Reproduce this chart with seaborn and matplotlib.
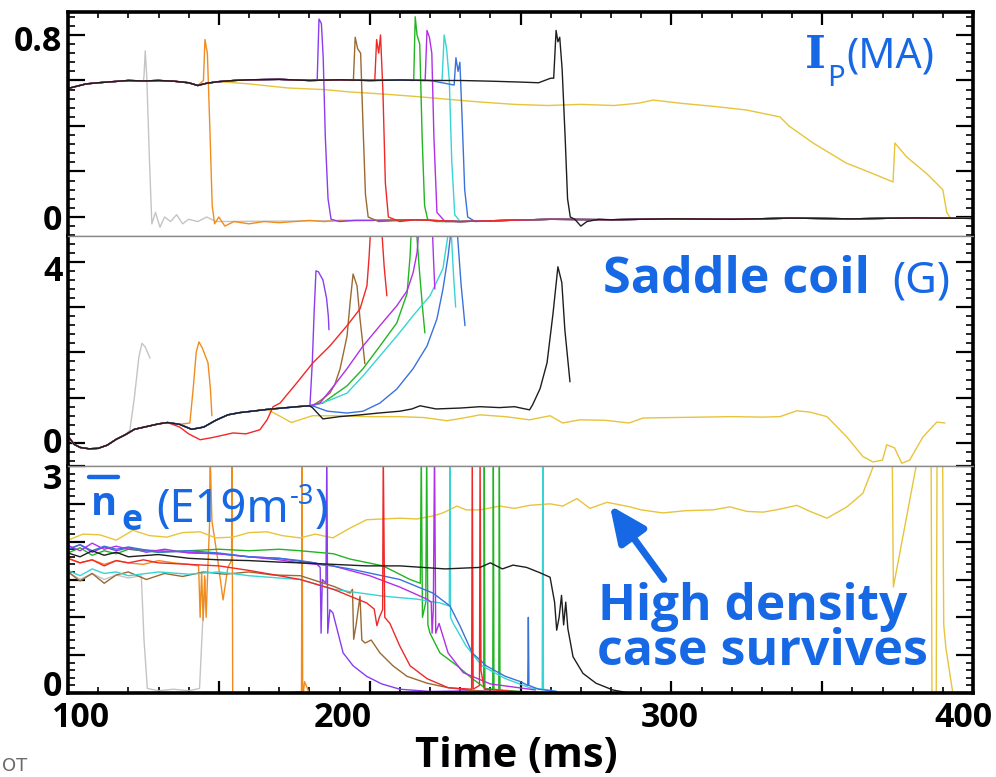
import matplotlib
matplotlib.use("Agg")
import matplotlib.pyplot as plt
import seaborn as sns
from matplotlib import font_manager as fm
from matplotlib.ticker import MultipleLocator
from matplotlib.lines import Line2D
from matplotlib.transforms import ScaledTranslation

sns.set_theme(style="ticks")


def has_bold(name):
    for f in fm.fontManager.ttflist:
        if f.name != name:
            continue
        w = f.weight if isinstance(f.weight, int) else fm.weight_dict.get(f.weight, 400)
        if w >= 600:
            return True
    return False


FAM_B = next(n for n in ['Noto Sans', 'Open Sans', 'Lato', 'Roboto', 'Inter', 'DejaVu Sans'] if has_bold(n))
FAM_R = 'Noto Sans'
plt.rcParams['font.family'] = [FAM_B, 'DejaVu Sans']

# ---- colours of the shots ----
GRAY, ORANGE, VIOLET, BROWN = '#c4c4c4', '#f08c1e', '#8a3cf0', '#9a6a32'
RED, GREEN, VIOLET2, CYAN = '#f02828', '#22b422', '#b030e8', '#38d4d4'
BLUE_L, BLACK, YELLOW = '#3a72dc', '#1e1e1e', '#e8c43a'
TXT = '#1668e4'

# ---- plasma current Ip (MA) ----
ip_base_t = [100, 103, 106, 110, 115, 120, 125, 130, 135, 140, 143, 146, 150, 155, 160, 170,
             180, 190, 200, 210, 220, 230, 240, 250, 256, 260]
ip_base = [0.565, 0.575, 0.585, 0.59, 0.595, 0.6, 0.598, 0.6, 0.597, 0.59, 0.578, 0.588, 0.595,
           0.6, 0.603, 0.605, 0.6, 0.603, 0.6, 0.602, 0.6, 0.6, 0.597, 0.593, 0.59, 0.61]
ip_post_t = [200, 215, 230, 245, 260, 280, 300, 320, 340, 360, 380, 400]
ip_post = [-0.015, -0.012, -0.02, -0.015, -0.01, -0.012, -0.008, -0.01, -0.005, -0.008, -0.004, -0.006]

ip_gray_t = [125.2, 125.6, 126.1, 127, 127.8, 129, 130.5, 132, 134, 136, 138, 140, 143, 146, 149]
ip_gray = [0.62, 0.73, 0.62, 0.25, -0.03, 0.02, -0.045, 0.0, -0.02, 0.01, -0.03, -0.01, -0.02, 0.0, -0.02]
ip_orange_t = [144.9, 145.4, 146.2, 147, 147.8, 148.6, 150, 152, 155, 160, 165, 170, 175, 180, 185, 190]
ip_orange = [0.6, 0.78, 0.72, 0.4, 0.05, -0.03, 0.0, -0.04, -0.02, -0.03, -0.02, -0.025, -0.02, -0.015, -0.02, -0.015]
ip_violet_t = [182.6, 183.2, 184.0, 184.6, 185.3, 186.2, 187.2, 190, 195]
ip_violet = [0.6, 0.87, 0.85, 0.7, 0.35, 0.08, -0.01, -0.02, -0.015]
ip_brown_t = [194.6, 195.2, 196.0, 197.0, 197.8, 198.6, 199.5, 203]
ip_brown = [0.6, 0.79, 0.74, 0.72, 0.4, 0.1, 0.0, -0.02]
ip_red_t = [201.7, 202.3, 203.0, 203.6, 204.4, 205.2, 206.2, 210]
ip_red = [0.6, 0.78, 0.72, 0.8, 0.55, 0.15, 0.0, -0.02]
ip_green_t = [214.6, 215.1, 215.7, 216.6, 217.4, 218.2, 219.2, 222]
ip_green = [0.6, 0.88, 0.8, 0.76, 0.35, 0.05, -0.01, -0.02]
ip_violet2_t = [218.4, 219.0, 219.8, 220.6, 221.3, 222.3, 225]
ip_violet2 = [0.6, 0.82, 0.79, 0.72, 0.35, 0.02, -0.02]
ip_cyan_t = [224.0, 224.7, 225.5, 226.4, 227.2, 228.2, 230]
ip_cyan = [0.6, 0.8, 0.74, 0.6, 0.25, 0.01, -0.02]
ip_blue_t = [228.0, 228.6, 229.3, 229.9, 230.6, 231.5, 232.5, 235]
ip_blue = [0.58, 0.7, 0.64, 0.68, 0.45, 0.12, 0.0, -0.02]
ip_black_t = [261.0, 261.8, 262.4, 263.0, 263.8, 264.8, 265.6, 266.5, 268, 270, 272, 276]
ip_black = [0.61, 0.82, 0.77, 0.79, 0.65, 0.35, 0.08, 0.0, -0.01, -0.04, -0.02, -0.01]
ip_yellow_t = [150, 160, 173, 185, 193, 205, 215, 228, 237, 248, 259, 270, 281, 289, 294, 303, 315,
               325, 336, 339, 347, 358, 366, 373.5, 374.1, 378, 384.7, 390, 391.3, 392.5, 400]
ip_yellow = [0.595, 0.585, 0.567, 0.56, 0.55, 0.54, 0.53, 0.515, 0.505, 0.495, 0.49, 0.495, 0.49,
             0.5, 0.514, 0.5, 0.485, 0.47, 0.44, 0.4, 0.325, 0.237, 0.195, 0.154, 0.325, 0.264,
             0.19, 0.12, 0.02, -0.005, -0.005]

# ---- saddle coil signal (G) ----
sc_base_t = [100, 102, 104, 107, 110, 113, 116, 119, 122, 126, 130, 133, 137, 141, 145, 149, 153,
             157, 161, 166, 171, 176, 180]
sc_base = [0.15, -0.03, -0.1, -0.13, -0.12, -0.05, 0.08, 0.18, 0.3, 0.36, 0.42, 0.45, 0.41, 0.3,
           0.35, 0.5, 0.62, 0.67, 0.7, 0.74, 0.77, 0.8, 0.82]
sc_gray_t = [120.5, 122, 123.5, 124.5, 125.6, 127.2]
sc_gray = [0.28, 1.0, 1.9, 2.2, 2.12, 1.87]
sc_orange_t = [140.4, 141.5, 142.5, 143.4, 144.5, 146.4, 147.2, 147.7]
sc_orange = [0.44, 1.2, 2.0, 2.23, 2.1, 1.77, 1.2, 0.6]
sc_violet_t = [180.2, 181, 181.6, 182.2, 183, 184.5, 185.7, 186.3, 186.5]
sc_violet = [0.82, 1.8, 2.9, 3.8, 3.78, 3.6, 3.2, 2.8, 2.5]
sc_brown_t = [181, 184, 186.8, 188.5, 190.2, 192.5, 193.5, 194.5, 195.8, 196.8, 197.7, 198.4]
sc_brown = [0.82, 0.95, 1.1, 1.3, 1.64, 2.36, 3.09, 3.73, 3.47, 2.74, 2.2, 1.75]
sc_red_t = [137, 140, 143.8, 148, 154.7, 159, 163.6, 166, 168, 170.3, 175.9, 181.2, 186.8, 192.5,
            196.8, 199.1, 199.8, 200.3, 204, 204.8, 205.7]
sc_red = [0.35, 0.2, 0.07, 0.12, 0.22, 0.2, 0.29, 0.51, 0.8, 0.88, 1.33, 1.77, 2.14, 2.59, 2.96,
          3.47, 4.1, 4.7, 4.7, 3.9, 3.25]
sc_green_t = [184.5, 188, 192.5, 197.8, 203.4, 209, 212.4, 213.4, 213.8, 215.5, 216.5, 217.5, 218.3]
sc_green = [0.88, 1.05, 1.26, 1.64, 2.14, 2.65, 3.3, 4.13, 4.7, 4.7, 3.8, 3.0, 2.43]
sc_violet2_t = [183.5, 188, 192.5, 197.8, 203.4, 209, 212.4, 214.4, 215.7, 216.3, 220.8, 221.2, 221.6]
sc_violet2 = [0.88, 1.25, 1.64, 2.14, 2.59, 3.03, 3.36, 3.76, 4.2, 4.7, 4.7, 4.0, 3.4]
sc_cyan_t = [181, 187, 192.5, 197.8, 203.4, 209, 214.4, 220, 224.3, 226.2, 227, 227.8, 228.5]
sc_cyan = [0.82, 0.95, 1.1, 1.48, 1.92, 2.36, 2.81, 3.25, 3.85, 4.7, 4.7, 3.7, 3.0]
sc_blue_t = [181, 186, 192.5, 197.8, 203.4, 209, 214.4, 219, 222.3, 224.3, 226, 227, 229, 230.3, 231.6]
sc_blue = [0.82, 0.7, 0.66, 0.7, 0.88, 1.19, 1.64, 2.14, 2.74, 3.4, 4.13, 4.7, 4.7, 3.5, 2.59]
sc_black_t = [181, 184.5, 190, 197, 203, 210, 214, 216.7, 222, 230, 236.6, 243, 248, 253, 254,
              256.5, 258.8, 260.8, 262.4, 263.7, 264.7, 266.4]
sc_black = [0.78, 0.53, 0.58, 0.62, 0.66, 0.7, 0.75, 0.82, 0.75, 0.77, 0.8, 0.78, 0.8, 0.73, 0.84,
            1.2, 1.77, 2.87, 3.89, 3.54, 2.5, 1.35]
sc_yellow_t = [170, 174, 181, 190, 200, 210, 218, 225.6, 231, 236.6, 245, 253, 259.8, 264, 269.7,
               278, 286, 290.6, 300, 310, 320, 330, 336, 341.6, 346, 351.6, 358.2, 363.5, 366.8,
               370, 371.4, 374, 376.4, 379, 383.4, 388, 390.7]
sc_yellow = [0.6, 0.45, 0.6, 0.6, 0.58, 0.58, 0.56, 0.49, 0.55, 0.62, 0.58, 0.51, 0.6, 0.44, 0.51,
             0.5, 0.44, 0.55, 0.56, 0.57, 0.58, 0.57, 0.58, 0.71, 0.68, 0.58, 0.13, -0.3, -0.42,
             -0.38, -0.04, -0.11, -0.45, -0.38, 0.13, 0.46, 0.44]

# ---- line averaged density (1e19 m^-3) ----
ne_gray_t = [100, 104, 108, 112, 116, 120, 124.3, 125.2, 126.3, 130, 135, 140, 143.6, 144.6, 145.6]
ne_gray = [1.6, 1.5, 1.58, 1.5, 1.56, 1.52, 1.55, 0.7, 0.06, 0.03, 0.05, 0.03, 0.06, 0.9, 1.5]
ne_orange_t = [100, 104, 108, 112, 116, 120, 125, 130, 135, 140, 143.3, 143.8, 144.3, 144.8, 145.3,
               145.8, 146.4, 146.9, 147.1, 147.7, 149.5, 151.4, 153, 154.2, 154.4, 154.6, 158,
               165, 172, 177.4, 177.6, 177.8, 178.4, 180]
ne_orange = [1.78, 1.72, 1.76, 1.7, 1.75, 1.72, 1.7, 1.75, 1.72, 1.7, 1.68, 1.0, 1.6, 0.96, 1.55,
             1.0, 1.7, 2.2, 3.2, 2.28, 1.8, 1.23, 1.66, 1.75, 3.2, -0.1, 0.0, 0.01, 0.0, 0.02,
             3.2, -0.1, 0.15, 0.0]
ne_violet_t = [100, 104, 108, 112, 116, 120, 126, 132, 140, 150, 160, 170, 177, 182, 183.6, 183.9,
               184.3, 185.5, 185.8, 186.1, 186.8, 187.8, 191.2, 194.5, 199, 204, 210, 220, 235,
               250, 260]
ne_violet = [1.9, 1.96, 1.86, 1.93, 1.88, 1.92, 1.86, 1.9, 1.85, 1.84, 1.8, 1.78, 1.74, 1.72, 1.66,
             0.79, 1.5, 1.45, 3.2, 0.79, 1.1, 1.06, 0.53, 0.36, 0.22, 0.12, 0.05, 0.02, 0.03,
             0.01, 0.0]
ne_brown_t = [100, 104, 108, 112, 116, 120, 126, 132, 138, 145, 152, 160, 168, 177, 188, 193.5,
              194.3, 194.7, 195.5, 196.8, 197.4, 198.5, 200.5, 203.4, 207.7, 212.4, 219, 226,
              235, 250]
ne_brown = [1.6, 1.48, 1.58, 1.45, 1.56, 1.6, 1.5, 1.58, 1.54, 1.6, 1.57, 1.6, 1.56, 1.55, 1.41,
            1.32, 1.37, 0.71, 0.9, 1.28, 0.7, 0.66, 0.7, 0.53, 0.36, 0.22, 0.13, 0.07, 0.03, 0.0]
ne_red_t = [100, 104, 108, 112, 116, 120, 125, 130, 140, 150, 160, 170, 177, 188, 199, 201.5,
            202.4, 203.2, 204.3, 204.5, 205, 206.7, 210, 213.4, 219, 226, 233.8, 234, 234.3,
            236.4, 236.6, 236.9, 238, 248, 258]
ne_red = [1.78, 1.72, 1.76, 1.68, 1.75, 1.72, 1.76, 1.72, 1.7, 1.68, 1.62, 1.55, 1.5, 1.37, 1.19,
          1.11, 0.89, 1.0, 1.1, 3.2, 1.0, 0.92, 0.62, 0.36, 0.19, 0.07, 0.05, 3.2, 0.05, 0.1,
          3.2, 0.3, 0.05, 0.02, 0.0]
ne_green_t = [100, 104, 108, 112, 116, 120, 130, 140, 150, 160, 170, 177, 188, 193.5, 204.4, 213.4,
              216.8, 217.1, 217.5, 218.6, 218.9, 219.3, 220, 223.3, 229, 234, 237.8, 238, 238.2,
              240.8, 241, 241.2, 242.8, 243, 243.2, 250, 258]
ne_green = [1.85, 1.92, 1.82, 1.88, 1.84, 1.9, 1.86, 1.88, 1.9, 1.88, 1.9, 1.88, 1.84, 1.77, 1.68,
            1.5, 1.45, 3.2, 1.0, 1.2, 3.2, 0.9, 0.79, 0.53, 0.36, 0.19, 0.08, 3.2, 0.06, 0.05,
            3.2, 0.05, 0.04, 3.2, 0.04, 0.02, 0.0]
ne_violet2_t = [100, 104, 108, 112, 116, 120, 130, 140, 150, 160, 170, 177, 187.8, 200, 210, 219,
                220.4, 220.7, 221.1, 221.5, 221.9, 223, 226, 231, 240, 255]
ne_violet2 = [1.95, 1.88, 1.98, 1.9, 1.94, 1.9, 1.88, 1.86, 1.84, 1.8, 1.76, 1.72, 1.68, 1.55, 1.4,
              1.24, 1.2, 0.79, 1.1, 3.2, 0.79, 0.92, 0.53, 0.27, 0.12, 0.04]
ne_cyan_t = [100, 104, 108, 112, 116, 120, 130, 140, 150, 160, 170, 177, 188, 204.4, 215.7, 223.3,
             226.4, 226.6, 226.8, 227.7, 232, 237.2, 245, 253, 257.2, 257.4, 257.6, 262]
ne_cyan = [1.62, 1.55, 1.64, 1.58, 1.6, 1.55, 1.6, 1.57, 1.6, 1.55, 1.52, 1.5, 1.37, 1.28, 1.24,
           1.19, 1.15, 3.2, 1.0, 0.92, 0.62, 0.36, 0.19, 0.07, 0.05, 3.2, 0.05, 0.02]
ne_blue_t = [100, 104, 108, 112, 116, 120, 130, 140, 150, 160, 170, 177, 193.5, 210, 221, 226.6,
             229.9, 234, 238.6, 245, 250, 252.4, 252.6, 252.8, 256, 262]
ne_blue = [1.9, 1.96, 1.88, 1.94, 1.9, 1.93, 1.86, 1.88, 1.85, 1.8, 1.78, 1.75, 1.64, 1.5, 1.32,
           1.15, 0.89, 0.53, 0.36, 0.22, 0.15, 0.1, 1.0, 0.1, 0.05, 0.02]
ne_black_t = [100, 104, 108, 112, 116, 120, 130, 140, 150, 160, 170, 177, 188, 199, 210, 225, 236.6,
              240, 244, 247.5, 252, 256.4, 259.8, 261.3, 262, 262.8, 263.6, 264.3, 265, 265.7,
              266.4, 267.4, 270.7, 275, 280.6, 286]
ne_black = [1.85, 1.8, 1.88, 1.82, 1.86, 1.8, 1.83, 1.78, 1.76, 1.75, 1.73, 1.72, 1.7, 1.68, 1.68,
            1.64, 1.66, 1.72, 1.64, 1.69, 1.66, 1.59, 1.53, 1.2, 0.83, 1.0, 1.29, 0.9, 1.2, 0.85,
            0.7, 0.48, 0.26, 0.13, 0.04, 0.0]
ne_yellow_t = [100, 105, 110.6, 116, 121.5, 127, 132.8, 138, 143.8, 149, 154.7, 160, 166, 171,
               176.9, 182, 187.8, 193.5, 199, 204.4, 210, 215.7, 221, 224.3, 228.9, 232, 236.6,
               243.2, 248, 253, 259.8, 264, 268.7, 273, 278.7, 286.3, 290, 297.2, 305, 313.8,
               319.4, 325, 330.4, 336, 341.6, 346, 351.6, 358.2, 363.5, 367, 369, 373.2, 373.6,
               381.4, 382, 386.1, 386.4, 387.8, 388.1, 389.9, 390.3, 391, 393.3]
ne_yellow = [2.02, 2.1, 2.09, 2.02, 2.15, 2.08, 2.06, 2.12, 2.13, 2.05, 2.06, 2.12, 2.13, 2.08,
             2.05, 2.1, 2.05, 2.18, 2.29, 2.3, 2.31, 2.3, 2.34, 2.38, 2.47, 2.42, 2.42, 2.47,
             2.44, 2.48, 2.5, 2.47, 2.57, 2.44, 2.52, 2.46, 2.42, 2.38, 2.41, 2.42, 2.46, 2.4,
             2.39, 2.43, 2.48, 2.4, 2.31, 2.46, 2.64, 3.0, 3.3, 3.3, 1.4, 3.05, 3.3, 3.3, -0.1,
             -0.1, 3.3, 3.3, 0.9, 0.6, 0.0]


def join(base_t, base_v, tail_t, tail_v, post_t=None, post_v=None):
    n = sum(1 for t in base_t if t < tail_t[0])
    t, v = list(base_t[:n]) + list(tail_t), list(base_v[:n]) + list(tail_v)
    if post_t is not None:
        for a, b in zip(post_t, post_v):
            if a > t[-1]:
                t.append(a)
                v.append(b)
    return t, v


shots = [
    (GRAY, ip_gray_t, ip_gray, sc_gray_t, sc_gray, ne_gray_t, ne_gray),
    (ORANGE, ip_orange_t, ip_orange, sc_orange_t, sc_orange, ne_orange_t, ne_orange),
    (YELLOW, ip_yellow_t, ip_yellow, sc_yellow_t, sc_yellow, ne_yellow_t, ne_yellow),
    (VIOLET, ip_violet_t, ip_violet, sc_violet_t, sc_violet, ne_violet_t, ne_violet),
    (BROWN, ip_brown_t, ip_brown, sc_brown_t, sc_brown, ne_brown_t, ne_brown),
    (GREEN, ip_green_t, ip_green, sc_green_t, sc_green, ne_green_t, ne_green),
    (CYAN, ip_cyan_t, ip_cyan, sc_cyan_t, sc_cyan, ne_cyan_t, ne_cyan),
    (VIOLET2, ip_violet2_t, ip_violet2, sc_violet2_t, sc_violet2, ne_violet2_t, ne_violet2),
    (BLUE_L, ip_blue_t, ip_blue, sc_blue_t, sc_blue, ne_blue_t, ne_blue),
    (RED, ip_red_t, ip_red, sc_red_t, sc_red, ne_red_t, ne_red),
    (BLACK, ip_black_t, ip_black, sc_black_t, sc_black, ne_black_t, ne_black),
]

W, H = 996, 777
fig = plt.figure(figsize=(W / 100, H / 100), dpi=100)
renderer = fig.canvas.get_renderer()


def fitted(s, target_w, weight, fam):
    # font size that gives the text the width it has in the original
    t = fig.text(0, 0, s, fontsize=30, fontweight=weight, family=fam)
    w = t.get_window_extent(renderer).width
    t.remove()
    return 30 * target_w / w


def box(top, bottom):
    return [68 / W, 1 - bottom / H, (973 - 68) / W, (bottom - top) / H]


ax1 = fig.add_axes(box(12, 236))
ax2 = fig.add_axes(box(236, 466))
ax3 = fig.add_axes(box(466, 693))

for col, it, iv, st, sv, nt, nv in shots:
    if col == YELLOW:
        t1, v1 = join(ip_base_t, ip_base, it, iv)
    else:
        t1, v1 = join(ip_base_t, ip_base, it, iv, ip_post_t, ip_post)
    t2, v2 = join(sc_base_t, sc_base, st, sv)
    sns.lineplot(x=t1, y=v1, ax=ax1, color=col, lw=1.0, sort=False, estimator=None)
    sns.lineplot(x=t2, y=v2, ax=ax2, color=col, lw=1.0, sort=False, estimator=None)
    sns.lineplot(x=nt, y=nv, ax=ax3, color=col, lw=1.0, sort=False, estimator=None)

ax1.set_ylim(-0.0835, 0.901)
ax2.set_ylim(-0.51, 4.57)
ax3.set_ylim(0, 3)

ax1.set_yticks([0, 0.2, 0.4, 0.6, 0.8], ['0', '', '', '', '0.8'])
ax1.yaxis.set_minor_locator(MultipleLocator(0.04))
ax2.set_yticks([0, 1, 2, 3, 4], ['0', '', '', '', '4'])
ax2.yaxis.set_minor_locator(MultipleLocator(0.2))
ax3.set_yticks([0, 0.5, 1, 1.5, 2, 2.5, 3], ['0', '', '', '', '', '', '3'])
ax3.yaxis.set_minor_locator(MultipleLocator(0.1))

TICK_SIZE = fitted('100', 58, 'bold', FAM_B)

for ax in (ax1, ax2, ax3):
    ax.set_xlim(100, 400)
    ax.set_xlabel('')
    ax.set_ylabel('')
    ax.set_xticks(range(100, 401, 50))
    ax.xaxis.set_minor_locator(MultipleLocator(10))
    ax.tick_params(axis='y', which='both', direction='in', left=True, right=True,
                   colors='black', labelsize=TICK_SIZE, pad=4)
    ax.tick_params(axis='y', which='major', length=12, width=1.6)
    ax.tick_params(axis='y', which='minor', length=5, width=1.2)
    ax.tick_params(axis='x', which='major', direction='in', length=9, width=1.6, colors='black')
    ax.tick_params(axis='x', which='minor', direction='in', length=4, width=1.2, colors='black')
    for s in ax.spines.values():
        s.set_color('black')
        s.set_linewidth(2.6)

ax1.tick_params(axis='x', which='both', top=True, bottom=False, labelbottom=False, labeltop=False)
ax2.tick_params(axis='x', which='both', top=False, bottom=False, labelbottom=False)
ax3.tick_params(axis='x', which='both', top=False, bottom=True, labelbottom=True,
                labelsize=TICK_SIZE, pad=6)
ax3.set_xticklabels(['100', '', '200', '', '300', '', '400'])
for ax, sides in ((ax1, ['bottom']), (ax2, ['top', 'bottom']), (ax3, ['top'])):
    for sd in sides:
        ax.spines[sd].set_color('#8a8a8a')
        ax.spines[sd].set_linewidth(1.0)

# label nudges, as placed in the original
shift = {'100': 13, '200': -27, '300': -2, '400': -10}
for lbl in ax3.get_xticklabels():
    lbl.set_fontweight('bold')
    lbl.set_family(FAM_B)
    dx = shift.get(lbl.get_text(), 0)
    lbl.set_transform(lbl.get_transform() + ScaledTranslation(dx / 100, 0, fig.dpi_scale_trans))
for ax, nud in ((ax1, {'0.8': -3}), (ax2, {'4': -6, '0': 3}), (ax3, {'3': -10, '0': 10})):
    for lbl in ax.get_yticklabels():
        lbl.set_fontweight('bold')
        lbl.set_family(FAM_B)
        dy = nud.get(lbl.get_text(), 0)
        lbl.set_transform(lbl.get_transform() + ScaledTranslation(0, dy / 100, fig.dpi_scale_trans))


# ---- texts ----
def put(x, base, s, size, weight, fam, color=TXT):
    t = fig.text(x / W, 1 - base / H, s, fontsize=size, fontweight=weight,
                 family=fam, color=color, ha='left', va='baseline')
    return t.get_window_extent(renderer).x1 + 1


x = put(805, 68, 'I', 32, 'bold', 'DejaVu Serif')
x = put(x, 86, 'P', 21, 'normal', FAM_R)
put(x + 1, 68, '(MA)', fitted('(MA)', 88, 'normal', FAM_R), 'normal', FAM_R)

put(603, 293, 'Saddle coil', fitted('Saddle coil', 267, 'bold', FAM_B), 'bold', FAM_B)
put(892, 293, '(G)', fitted('(G)', 58, 'normal', FAM_R), 'normal', FAM_R)

put(91, 515, 'n', fitted('n', 26, 'bold', FAM_B), 'bold', FAM_B)
put(121, 530, 'e', fitted('e', 21, 'bold', FAM_B), 'bold', FAM_B)
fig.add_artist(Line2D([89 / W, 118 / W], [1 - 477 / H, 1 - 477 / H], color=TXT, lw=3.2))
ne_size = fitted('(E19m', 133, 'normal', FAM_R)
x = put(156, 522, '(E19m', ne_size, 'normal', FAM_R)
x = put(x, 504, '-3', ne_size * 0.6, 'normal', FAM_R)
put(x, 522, ')', ne_size, 'normal', FAM_R)

put(598, 620, 'High density', fitted('High density', 310, 'bold', FAM_B), 'bold', FAM_B)
put(597, 665, 'case survives', fitted('case survives', 331, 'bold', FAM_B), 'bold', FAM_B)
ax3.annotate('', xy=(279.6, 2.48), xytext=(297.5, 1.5),
             arrowprops=dict(arrowstyle='-|>,head_length=1.0,head_width=0.45',
                             color=TXT, lw=5, mutation_scale=22, shrinkA=0, shrinkB=0))

put(415, 767, 'Time (ms)', fitted('Time (ms)', 202, 'bold', FAM_B), 'bold', FAM_B, color='black')
fig.text(2 / W, 1 - 775 / H, 'OT', fontsize=13, color='#6a6a6a', ha='left', va='bottom',
         family='DejaVu Sans')

fig.savefig('out.png', dpi=100)
